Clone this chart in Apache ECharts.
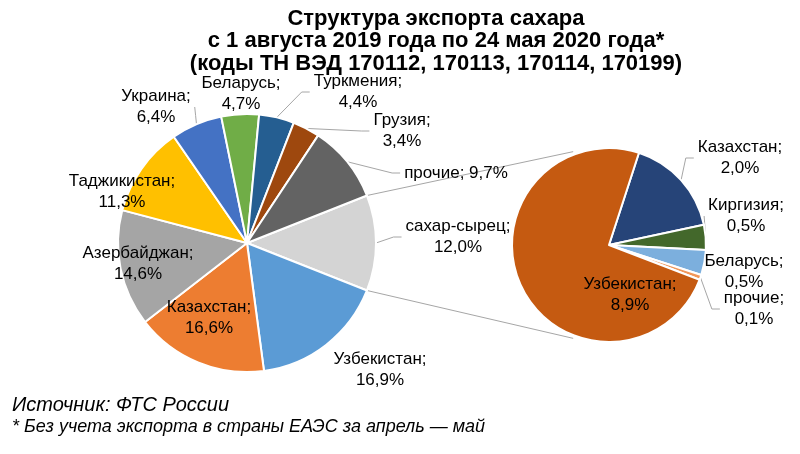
<!DOCTYPE html>
<html><head><meta charset="utf-8">
<script src="https://cdn.jsdelivr.net/npm/echarts@6/dist/echarts.min.js"></script>
<style>html,body{margin:0;padding:0;background:#fff}#c{width:800px;height:454px}</style>
</head><body><div id="c"></div>
<script>
// ---- data ----
const titleLines = ['Структура экспорта сахара', 'с 1 августа 2019 года по 24 мая 2020 года*', '(коды ТН ВЭД 170112, 170113, 170114, 170199)'];
const mainNames = ['сахар-сырец', 'Узбекистан', 'Казахстан', 'Азербайджан', 'Таджикистан', 'Украина', 'Беларусь', 'Туркмения', 'Грузия', 'прочие'];
const mainValues = [12.0, 16.9, 16.6, 14.6, 11.3, 6.4, 4.7, 4.4, 3.4, 9.7];
const secNames = ['Казахстан', 'Киргизия', 'Беларусь', 'прочие', 'Узбекистан'];
const secValues = [2.0, 0.5, 0.5, 0.1, 8.9];
const notes = ['Источник: ФТС России', '* Без учета экспорта в страны ЕАЭС за апрель — май'];

// ---- styles / layout ----
const FONT = '"Liberation Sans", Arial, sans-serif';
const mainColors = ['#D4D4D4', '#5B9BD5', '#ED7D31', '#A5A5A5', '#FFC000', '#4472C4', '#70AD47', '#255E91', '#9E480E', '#636363'];
const secColors = ['#264478', '#43682B', '#7CAFDD', '#F1975A', '#C55A11'];
const MAIN = {cx: 247, cy: 243, r: 129};
const SEC = {cx: 609, cy: 245, r: 97};
// label block centre, offset from pie centre
const mainLabelAt = [[211, -6], [133, 127], [-38, 75], [-109, 21], [-125, -51], [-91, -136], [-6, -149], [111, -151], [155, -112], [209, -70]];
const mainLeader = [true, false, false, false, false, true, false, true, true, true];
const mainOneLine = [false, false, false, false, false, false, false, false, false, true];
const secLabelAt = [[131, -87], [137, -29], [135, 27], [145, 64], [21, 50]];
const secLeader = [true, true, false, true, false];
const secOneLine = [false, false, false, false, false];
const mainStart = mainValues[0] * 3.6 / 2;
const secStart = 72;
const LINE = '#A6A6A6';

function fmt(v) { return v.toFixed(1).replace('.', ',') + '%'; }

function midAngles(values, start) {
  const total = values.reduce((a, b) => a + b, 0);
  let acc = start;
  return values.map(v => { const a = v / total * 360; const m = acc - a / 2; acc -= a; return m; });
}

function makeLayout(P, values, start, at, leader) {
  const mids = midAngles(values, start);
  return function (params) {
    const i = params.dataIndex;
    const x = P.cx + at[i][0], y = P.cy + at[i][1];
    const out = {x: x, y: y, align: 'center', verticalAlign: 'middle'};
    if (leader[i]) {
      const rad = mids[i] * Math.PI / 180;
      const s = [P.cx + P.r * Math.cos(rad), P.cy - P.r * Math.sin(rad)];
      const w = params.labelRect.width;
      let e, m;
      if (s[0] < x) {
        e = [x - w / 2 - 4, y];
        m = (s[0] < e[0] - 8) ? [e[0] - 8, y] : [(s[0] + e[0]) / 2, (s[1] + e[1]) / 2];
      } else {
        e = [x + w / 2 + 4, y];
        m = (s[0] > e[0] + 8) ? [e[0] + 8, y] : [(s[0] + e[0]) / 2, (s[1] + e[1]) / 2];
      }
      out.labelLinePoints = [s, m, e];
    }
    return out;
  };
}

function buildData(names, values, colors, leader, oneLine) {
  return names.map((n, i) => ({
    name: n, value: values[i],
    itemStyle: {color: colors[i]},
    labelLine: {show: leader[i]},
    label: {formatter: n + (oneLine[i] ? '; ' : ';\n') + fmt(values[i])}
  }));
}

const labelStyle = {show: true, position: 'outside', color: '#000', fontSize: 17, fontFamily: FONT, lineHeight: 21, align: 'center'};
const lineStyle = {color: LINE, width: 1};

const h = mainStart * Math.PI / 180;
const ca = 111 * Math.PI / 180;
const connectors = [
  [[MAIN.cx + MAIN.r * Math.cos(h), MAIN.cy - MAIN.r * Math.sin(h)], [SEC.cx + (SEC.r + 3) * Math.cos(ca), SEC.cy - (SEC.r + 3) * Math.sin(ca)]],
  [[MAIN.cx + MAIN.r * Math.cos(h), MAIN.cy + MAIN.r * Math.sin(h)], [SEC.cx + (SEC.r + 3) * Math.cos(ca), SEC.cy + (SEC.r + 3) * Math.sin(ca)]]
];

const chart = echarts.init(document.getElementById('c'), null, {renderer: 'canvas'});
chart.setOption({
  backgroundColor: '#fff',
  animation: false,
  graphic: [
    {type: 'text', x: 436, y: 41, z: 10, style: {text: titleLines.join('\n'), font: 'bold 22px ' + FONT, fill: '#000', align: 'center', verticalAlign: 'middle', lineHeight: 22.5}},
    {type: 'text', x: 12, y: 405, style: {text: notes[0], font: 'italic 20px ' + FONT, fill: '#000', align: 'left', verticalAlign: 'middle'}},
    {type: 'text', x: 12, y: 427, style: {text: notes[1], font: 'italic 18px ' + FONT, fill: '#000', align: 'left', verticalAlign: 'middle'}}
  ].concat(connectors.map(c => ({type: 'line', z: 1, shape: {x1: c[0][0], y1: c[0][1], x2: c[1][0], y2: c[1][1]}, style: {stroke: LINE, lineWidth: 1}}))),
  series: [
    {
      type: 'pie', center: [MAIN.cx, MAIN.cy], radius: MAIN.r,
      startAngle: mainStart, clockwise: true, avoidLabelOverlap: false,
      itemStyle: {borderColor: '#fff', borderWidth: 2},
      label: labelStyle,
      labelLine: {show: true, lineStyle: lineStyle, length: 10, length2: 10},
      labelLayout: makeLayout(MAIN, mainValues, mainStart, mainLabelAt, mainLeader),
      emphasis: {disabled: true},
      data: buildData(mainNames, mainValues, mainColors, mainLeader, mainOneLine)
    },
    {
      type: 'pie', center: [SEC.cx, SEC.cy], radius: SEC.r,
      startAngle: secStart, clockwise: true, avoidLabelOverlap: false,
      itemStyle: {borderColor: '#fff', borderWidth: 2},
      label: labelStyle,
      labelLine: {show: true, lineStyle: lineStyle, length: 10, length2: 10},
      labelLayout: makeLayout(SEC, secValues, secStart, secLabelAt, secLeader),
      emphasis: {disabled: true},
      data: buildData(secNames, secValues, secColors, secLeader, secOneLine)
    }
  ]
});
</script>
</body></html>
